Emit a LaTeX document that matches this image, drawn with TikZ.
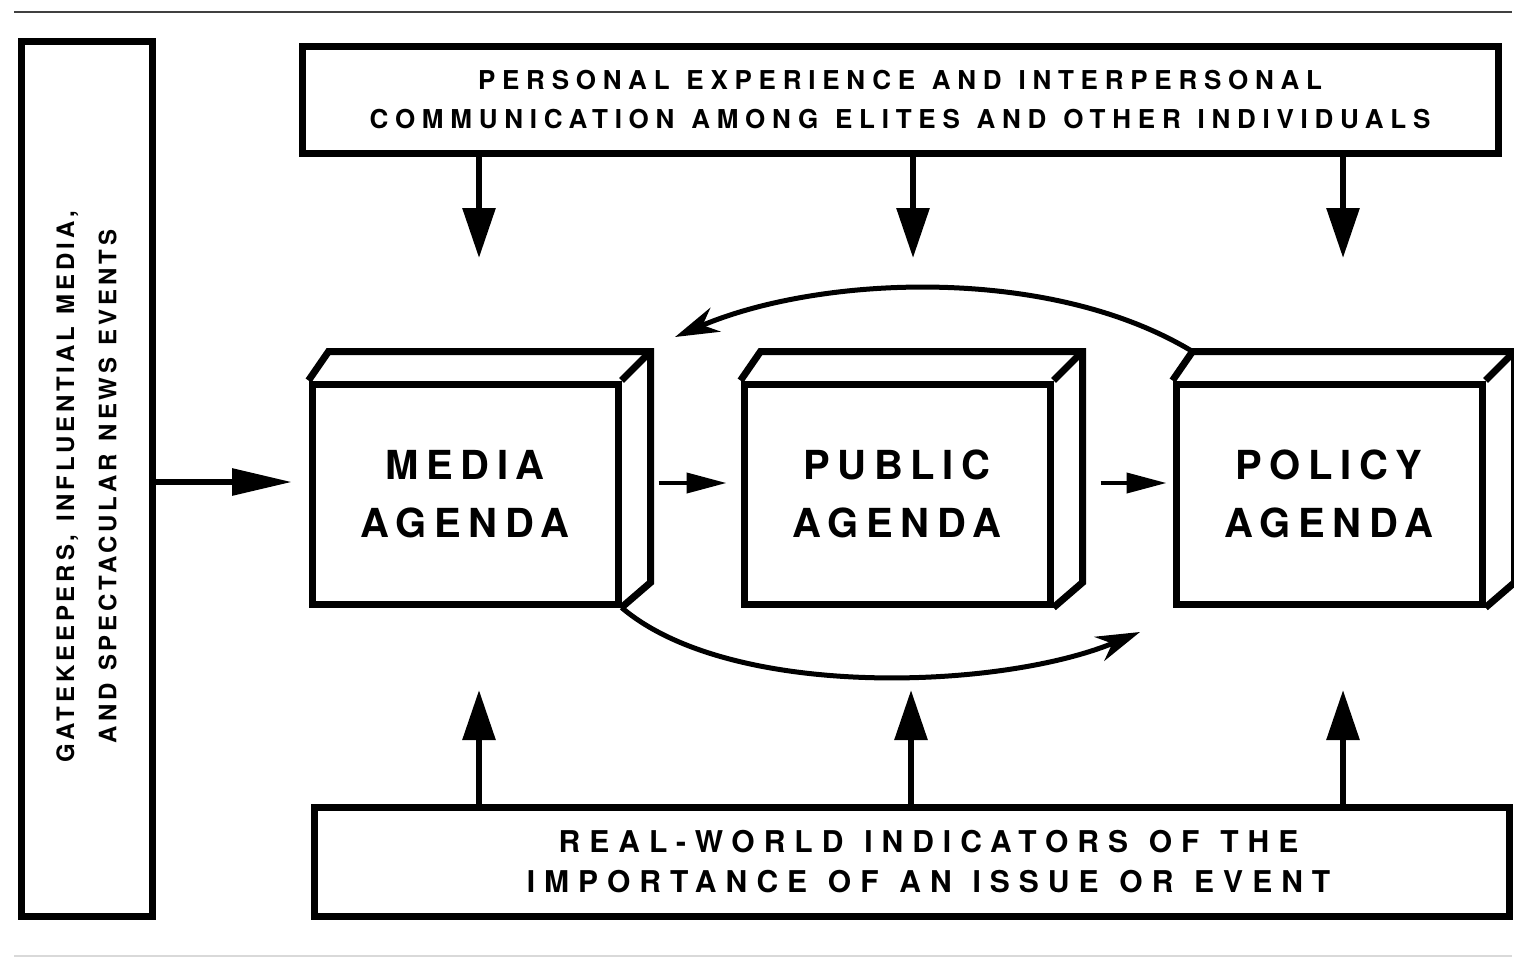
\documentclass[tikz,border=0pt]{standalone}
\usepackage{fontspec}
\setmainfont{TeX Gyre Heros}
\newfontfamily\boxfont{TeX Gyre Heros}[LetterSpace=26, WordSpace=1.2]
\newfontfamily\groundfont{TeX Gyre Heros}[LetterSpace=30, WordSpace=1.2]
\newfontfamily\sidefont{TeX Gyre Heros}[LetterSpace=16, WordSpace=1.2]
\newfontfamily\agendafont{TeX Gyre Heros}[LetterSpace=19]
\usetikzlibrary{arrows.meta}

\tikzset{
    frame/.style={draw, line width=3.5pt, inner sep=0pt, align=center},
    agenda/.style={draw, line width=3.5pt, inner sep=0pt, align=center,
        minimum width=153pt, minimum height=110pt,
        font={\agendafont\bfseries\fontsize{20pt}{29pt}\selectfont}},
    depth/.style={line width=3.5pt, line join=miter},
    bigarrow/.style={line width=3pt, -{Triangle[length=25pt, width=16pt]}},
    sidearrow/.style={line width=3pt, -{Triangle[length=30pt, width=13pt]}},
    thinarrow/.style={line width=2pt, -{Triangle[length=20pt, width=10pt]}},
    loop/.style={line width=2.5pt, -{Stealth[length=22pt, width=13pt, inset=7pt]}}
}

% back faces of an agenda box
\newcommand{\boxdepth}[1]{%
    \draw[depth] (#1.north west) -- ([shift={(20,-29)}]#1.north west)
        -- ([shift={(29,-29)}]#1.north east) -- ([shift={(29,-25)}]#1.south east)
        -- (#1.south east);
    \draw[depth] (#1.north east) -- ([shift={(29,-29)}]#1.north east);
}

\begin{document}
\begin{tikzpicture}[x=0.5pt, y=-0.5pt]
    \useasboundingbox (0,0) rectangle (1514,959);
    \draw[line width=1pt, black!75] (14,12) -- (1512,12);
    \draw[line width=0.6pt, black!15] (14,956) -- (1512,956);

    % outer boxes
    \node[frame, minimum width=598pt, minimum height=53.5pt,
        font={\boxfont\bfseries\fontsize{13pt}{19.5pt}\selectfont}] (personal) at (900,99.5)
        {PERSONAL EXPERIENCE AND INTERPERSONAL\\COMMUNICATION AMONG ELITES AND OTHER INDIVIDUALS};
    \node[frame, minimum width=597.5pt, minimum height=54.5pt] (world) at (911.5,861.5) {};
    \node[align=center, inner sep=0pt,
        font={\groundfont\bfseries\fontsize{15pt}{20pt}\selectfont}] (worldtext) at ([shift={(17,0)}]world)
        {REAL-WORLD INDICATORS OF THE\\IMPORTANCE OF AN ISSUE OR EVENT};
    \node[frame, minimum width=65.5pt, minimum height=437.5pt] (gate) at (86.5,478.5) {};
    \node[rotate=90, align=center, inner sep=0pt,
        font={\sidefont\bfseries\fontsize{12pt}{21pt}\selectfont}] (gatetext) at ([shift={(0,8)}]gate)
        {GATEKEEPERS, INFLUENTIAL MEDIA,\\AND SPECTACULAR NEWS EVENTS};

    % agendas
    \node[agenda] (media) at (465,494) {MEDIA\\AGENDA};
    \node[agenda] (public) at (897,494) {PUBLIC\\AGENDA};
    \node[agenda] (policy) at (1329,494) {POLICY\\AGENDA};
    \boxdepth{media}
    \boxdepth{public}
    \boxdepth{policy}

    % arrow tips
    \coordinate (mtop) at (479,258);
    \coordinate (ptop) at (913,258);
    \coordinate (ltop) at (1343,258);
    \coordinate (mbot) at (479,690);
    \coordinate (pbot) at (911,690);
    \coordinate (lbot) at (1343,690);
    \coordinate (gtip) at (292,482);
    \coordinate (backtip) at (675,337);
    \coordinate (fwdtip) at (1140,632);

    \draw[bigarrow] (personal.south -| mtop) -- (mtop);
    \draw[bigarrow] (personal.south -| ptop) -- (ptop);
    \draw[bigarrow] (personal.south -| ltop) -- (ltop);
    \draw[bigarrow] (world.north -| mbot) -- (mbot);
    \draw[bigarrow] (world.north -| pbot) -- (pbot);
    \draw[bigarrow] (world.north -| lbot) -- (lbot);
    \draw[sidearrow] (gate.east |- gtip) -- (gtip);

    \draw[thinarrow] ([shift={(37,-11)}]media.east) -- ([shift={(-14,-11)}]public.west);
    \draw[thinarrow] ([shift={(47,-11)}]public.east) -- ([shift={(-6,-11)}]policy.west);

    \draw[loop] ([shift={(20,-29)}]policy.north west) .. controls (1050,265) and (820,275) .. (backtip);
    \draw[loop] (media.south east) .. controls (730,700) and (1000,690) .. (fwdtip);
\end{tikzpicture}
\end{document}
